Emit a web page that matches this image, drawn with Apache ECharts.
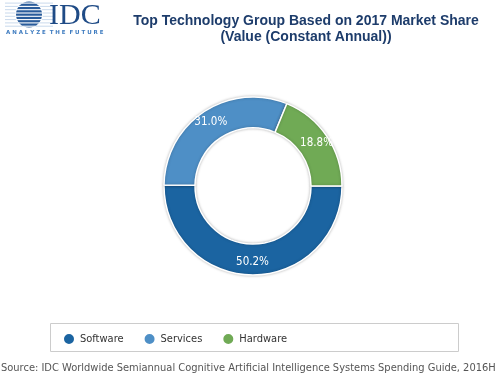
<!DOCTYPE html>
<html>
<head>
<meta charset="utf-8">
<script src="https://cdn.jsdelivr.net/npm/echarts@6/dist/echarts.min.js"></script>
<style>html,body{margin:0;padding:0;background:#fff}#c{width:500px;height:375px}</style>
</head>
<body>
<div id="c"></div>
<script>
var categories = ['Software', 'Services', 'Hardware'];
var values = [50.2, 31.0, 18.8];
var colors = ['#1b64a1', '#4e8fc6', '#70aa55'];
var titleText = 'Top Technology Group Based on 2017 Market Share\n(Value (Constant Annual))';
var sourceText = 'Source: IDC Worldwide Semiannual Cognitive Artificial Intelligence Systems Spending Guide, 2016H';

var uiFont = '"DejaVu Sans Condensed", "DejaVu Sans", sans-serif';
var chart = echarts.init(document.getElementById('c'));

var logo = [];
var gx = 29, gy = 14.5, gr = 13;
for (var i = 0; i < 8; i++) {
  var y = gy - gr + 1.6 + i * 3.3;
  logo.push({type: 'line', shape: {x1: 5, y1: y, x2: 53, y2: y}, style: {stroke: '#c9d9ec', lineWidth: 1}, z: 1});
}
logo.push({type: 'circle', shape: {cx: gx, cy: gy, r: gr}, style: {fill: '#2a5c9b'}, z: 2});
for (var j = 0; j < 8; j++) {
  var yy = gy - gr + 1.6 + j * 3.3;
  var dx = Math.sqrt(Math.max(0, gr * gr - (yy - gy) * (yy - gy)));
  logo.push({type: 'line', shape: {x1: gx - dx - 1, y1: yy, x2: gx + dx + 1, y2: yy}, style: {stroke: '#ffffff', lineWidth: 1.1}, z: 3});
}
logo.push({type: 'text', left: 49, top: 1, style: {text: 'IDC', font: '30px "Liberation Serif", serif', fill: '#1f4b86'}, z: 3});
logo.push({type: 'text', left: 6, top: 29.5, style: {text: 'A N A L Y Z E  T H E  F U T U R E', font: 'bold 5.5px "DejaVu Sans", sans-serif', fill: '#3f7cc0'}, z: 3});

chart.setOption({
  animation: false,
  title: {
    text: titleText,
    left: 301, top: 8, textAlign: 'center',
    textStyle: {fontFamily: '"Liberation Sans", Arial, sans-serif', fontSize: 14, fontWeight: 'bold', color: '#1d3c6b', lineHeight: 16}
  },
  legend: {
    data: categories,
    left: 57, top: 327,
    orient: 'horizontal',
    icon: 'circle',
    itemWidth: 12, itemHeight: 12, itemGap: 19,
    textStyle: {fontFamily: uiFont, fontSize: 11, color: '#333'}
  },
  color: colors,
  series: [{
    type: 'pie',
    center: [253, 186],
    radius: [58, 89],
    startAngle: 0,
    clockwise: true,
    avoidLabelOverlap: false,
    itemStyle: {borderColor: '#fff', borderWidth: 1.5, shadowBlur: 3, shadowColor: 'rgba(0,0,0,0.25)'},
    label: {
      show: true, position: 'inside',
      formatter: function (p) { return p.value.toFixed(1) + '%'; },
      color: '#fff', fontFamily: uiFont, fontSize: 11.5
    },
    labelLine: {show: false},
    emphasis: {disabled: true},
    data: categories.map(function (c, i) { return {name: c, value: values[i]}; })
  }],
  graphic: logo.concat([
    {type: 'rect', shape: {x: 50.5, y: 323.5, width: 408, height: 28}, style: {fill: 'none', stroke: '#cccccc', lineWidth: 1}, z: 0},
    {type: 'text', left: 1, top: 363, style: {text: sourceText, font: '11px ' + uiFont, fill: '#555'}}
  ])
});
</script>
</body>
</html>
